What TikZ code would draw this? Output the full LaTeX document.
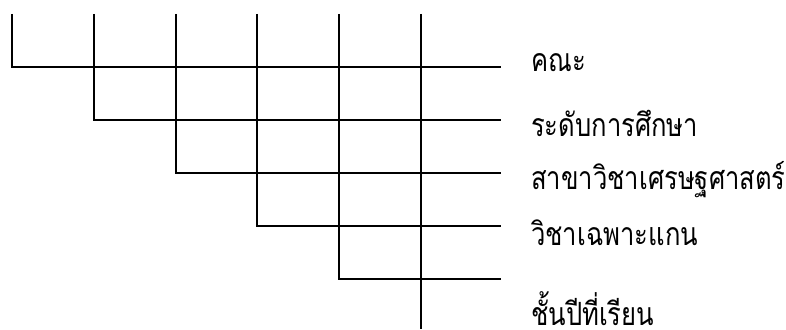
\documentclass[tikz,border=0pt]{standalone}
\usepackage{fontspec}
\newfontfamily\thaifont[Script=Thai,FakeStretch=0.8]{Loma}

\begin{document}
\begin{tikzpicture}[
    x=1pt, y=-1pt, % y runs downwards, (0,0) is top left
    tree/.style={line width=1.6pt},
    lbl/.style={anchor=base west, inner sep=0pt, text depth=0pt, font=\thaifont\fontsize{32}{36}\selectfont}
]
\useasboundingbox (0,0) rectangle (786,329);
\def\xend{501}
\def\xlbl{531}
\foreach \i/\x/\y/\by/\txt in {0/12/67/71/คณะ,
                                1/94/120/136/ระดับการศึกษา,
                                2/176/173/189/สาขาวิชาเศรษฐศาสตร์,
                                3/257/226/245/วิชาเฉพาะแกน,
                                4/339/279/325/ชั้นปีที่เรียน} {
    \coordinate (t\i) at (\x,14);
    \coordinate (e\i) at (\xend,\y);
    \node[lbl] (l\i) at (\xlbl,\by) {\txt};
    \draw[tree] (t\i) |- (e\i);
}
\coordinate (t5) at (421,14);
\coordinate (b5) at (421,329);
\draw[tree] (t5) -- (b5);
\end{tikzpicture}
\end{document}
